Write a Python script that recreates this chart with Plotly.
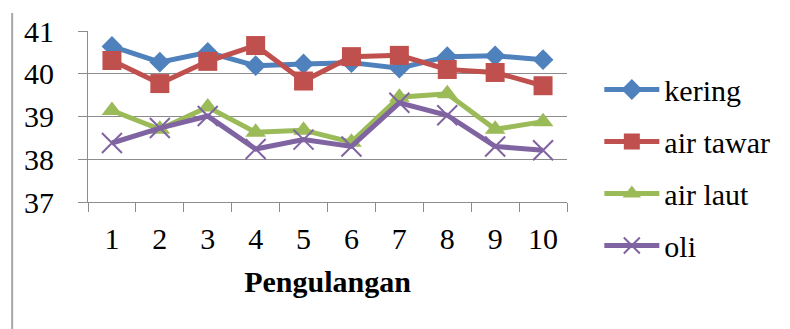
import plotly.graph_objects as go

# Pengulangan (repetition number) on the x axis
repetitions = ["1", "2", "3", "4", "5", "6", "7", "8", "9", "10"]

# Measured values for each treatment
kering = [40.64, 40.27, 40.50, 40.19, 40.23, 40.26, 40.13, 40.40, 40.42, 40.33]
air_tawar = [40.31, 39.77, 40.29, 40.66, 39.83, 40.40, 40.43, 40.10, 40.03, 39.72]
air_laut = [39.14, 38.70, 39.22, 38.63, 38.68, 38.40, 39.45, 39.53, 38.70, 38.88]
oli = [38.38, 38.73, 39.01, 38.24, 38.46, 38.30, 39.32, 39.03, 38.30, 38.21]

y_ticks = [37, 38, 39, 40, 41]

FONT = "Liberation Serif"
GRID = "#8c8c8c"

series = [
    ("kering", kering, "#4F81BD", dict(symbol="diamond", size=16)),
    ("air tawar", air_tawar, "#C0504D", dict(symbol="square", size=19)),
    ("air laut", air_laut, "#9BBB59", dict(symbol="triangle-up", size=18)),
    ("oli", oli, "#8064A2", dict(symbol="x-thin-open", size=20,
                                  line=dict(width=2, color="#8064A2"))),
]

fig = go.Figure()
for i, (name, values, color, marker) in enumerate(series):
    fig.add_trace(go.Scatter(
        x=repetitions, y=values, name=name, mode="lines+markers",
        line=dict(color=color, width=5),
        marker=dict(color=color, **marker),
        legendgroup=f"g{i}",
    ))

fig.update_layout(
    width=790, height=329,
    margin=dict(l=88, r=223, t=31, b=127),
    paper_bgcolor="white", plot_bgcolor="white",
    font=dict(family=FONT, size=30, color="black"),
    showlegend=True,
    legend=dict(
        x=1.0675, y=0.81, xanchor="left", yanchor="top",
        font=dict(family=FONT, size=30, color="black"),
        tracegroupgap=10, itemwidth=55, bgcolor="rgba(0,0,0,0)",
        maxheight=600,
    ),
    xaxis=dict(
        type="category", range=[-0.5, 9.5],
        tickson="boundaries", ticks="outside", ticklen=9, tickcolor=GRID,
        showline=True, linecolor=GRID, linewidth=1, showgrid=False,
        ticklabelstandoff=10,
        tickfont=dict(family=FONT, size=30),
        title=dict(text="Pengulangan", standoff=16,
                   font=dict(family=FONT, size=30, weight="bold")),
    ),
    yaxis=dict(
        range=[37, 41], tickvals=y_ticks, ticks="outside", ticklen=9,
        tickcolor=GRID, showline=True, linecolor=GRID, linewidth=1,
        showgrid=True, gridcolor=GRID, gridwidth=1, zeroline=False,
        ticklabelstandoff=18,
        tickfont=dict(family=FONT, size=30),
    ),
    shapes=[dict(
        type="line", xref="paper", yref="paper",
        x0=(12 - 88) / 480, x1=(12 - 88) / 480,
        y0=(202 - 13) / 171, y1=(202 - 335) / 171,
        line=dict(color="#a6a6a6", width=2),
    )],
)

fig.write_html("out.html")
